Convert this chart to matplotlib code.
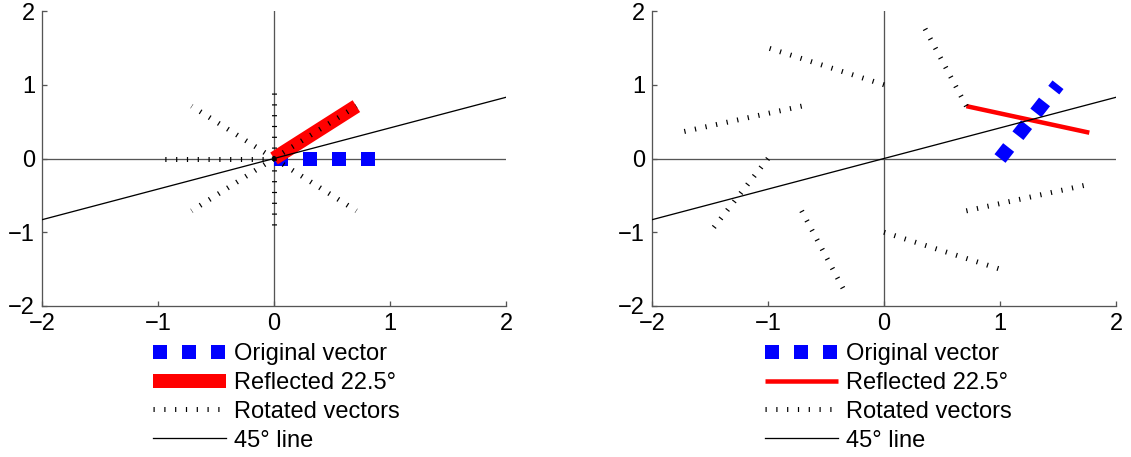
import matplotlib
matplotlib.use("Agg")
import matplotlib.pyplot as plt

plt.rcParams['font.family'] = ['Liberation Sans', 'DejaVu Sans']

# ---------------- data ----------------
ticks = [-2, -1, 0, 1, 2]
tick_labels = ['\u22122', '\u22121', '0', '1', '2']

line45_x = [-2, 2]
line45_y = [-0.83, 0.83]

# left panel
L_orig_x = [0, 1]
L_orig_y = [0, 0]
L_refl_x = [0, 0.71]
L_refl_y = [0, 0.71]
L_rot_x0 = [0, 0, 0, 0, 0, 0, 0]
L_rot_y0 = [0, 0, 0, 0, 0, 0, 0]
L_rot_x1 = [0.71, 0, -0.71, -1, -0.71, 0, 0.71]
L_rot_y1 = [0.71, 1, 0.71, 0, -0.71, -1, -0.71]

# right panel
R_orig_x = [1, 1.5]
R_orig_y = [0, 1]
R_refl_x = [0.71, 1.77]
R_refl_y = [0.71, 0.35]
R_rot_x0 = [0.71, 0, -0.71, -1, -0.71, 0, 0.71]
R_rot_y0 = [0.71, 1, 0.71, 0, -0.71, -1, -0.71]
R_rot_x1 = [0.35, -1, -1.77, -1.5, -0.35, 1, 1.77]
R_rot_y1 = [1.77, 1.5, 0.35, -1, -1.77, -1.5, -0.35]

labels = ['Original vector', 'Reflected 22.5\u00b0', 'Rotated vectors', '45\u00b0 line']

# ---------------- figure ----------------
W, H = 1131, 457
fig = plt.figure(figsize=(W / 100, H / 100), dpi=100)

px = 72 / 100  # points per pixel
gray = '#555555'
FS = 17


def make_axes(x0):
    ax = fig.add_axes([x0 / W, 1 - 306 / H, 464 / W, 295 / H])
    ax.set_xlim(-2, 2)
    ax.set_ylim(-2, 2)
    ax.set_xticks(ticks)
    ax.set_yticks(ticks)
    ax.set_xticklabels(tick_labels)
    ax.set_yticklabels(tick_labels)
    for s in ['top', 'right']:
        ax.spines[s].set_visible(False)
    for s in ['left', 'bottom']:
        ax.spines[s].set_color(gray)
        ax.spines[s].set_linewidth(1.3 * px)
    ax.tick_params(direction='in', length=5 * px, width=1.3 * px,
                   color=gray, labelsize=FS, pad=7 * px)
    ax.axhline(0, color=gray, lw=1.3 * px, zorder=1)
    ax.axvline(0, color=gray, lw=1.3 * px, zorder=1)
    return ax


def draw(ax, ox, oy, rx, ry, rx0, ry0, rx1, ry1, red_lw, lx):
    rot_lw = 5 * px
    on = 1.2 / 5
    off = (10.8 - 1.2) / 5
    blue_lw = 14 * px
    h1, = ax.plot(ox, oy, color='blue', lw=blue_lw,
                  linestyle=(0, (1.0, 29 / 14 - 1.0)), dash_capstyle='butt', zorder=3)
    h2, = ax.plot(rx, ry, color='red', lw=red_lw, solid_capstyle='butt', zorder=3)
    h3 = None
    for a, b, c, d in zip(rx0, ry0, rx1, ry1):
        h3, = ax.plot([a, c], [b, d], color='black', lw=rot_lw,
                      linestyle=(0, (on, off)), dash_capstyle='butt', zorder=4)
    h4, = ax.plot(line45_x, line45_y, color='black', lw=1.3 * px, zorder=5)
    fig.legend([h1, h2, h3, h4], labels, loc='upper left',
               bbox_to_anchor=(lx / W, 1 - 343 / H), frameon=False,
               fontsize=FS, handlelength=73 / 23.6, handletextpad=0.34,
               labelspacing=0.29, borderpad=0, borderaxespad=0)


axL = make_axes(42)
draw(axL, L_orig_x, L_orig_y, L_refl_x, L_refl_y,
     L_rot_x0, L_rot_y0, L_rot_x1, L_rot_y1, 14 * px, 153)

axR = make_axes(652)
draw(axR, R_orig_x, R_orig_y, R_refl_x, R_refl_y,
     R_rot_x0, R_rot_y0, R_rot_x1, R_rot_y1, 4.5 * px, 765)

fig.savefig('out.png', dpi=100)
